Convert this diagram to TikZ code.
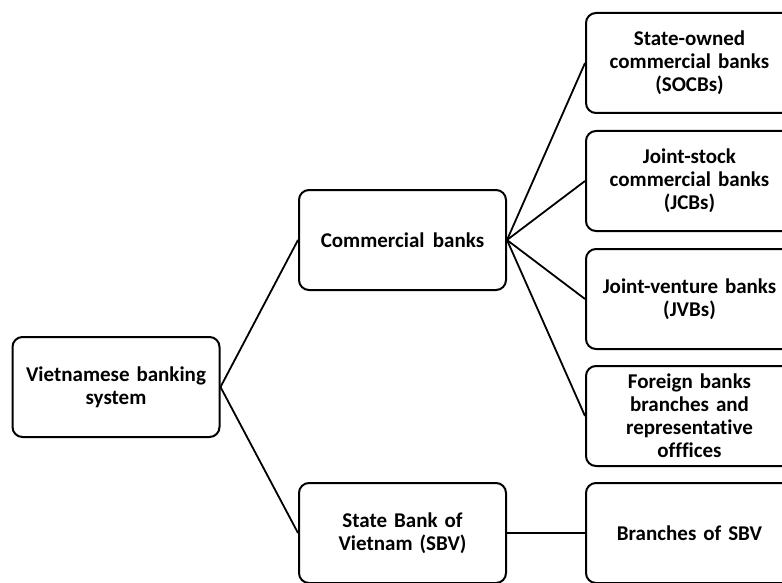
\documentclass[tikz,border=0pt]{standalone}
\usepackage{fontspec}
\setmainfont{Carlito}[Ligatures=NoCommon]
\begin{document}
\begin{tikzpicture}[x=1pt,y=-1pt,
  box/.style={draw=black, line width=2pt, rounded corners=10pt, fill=white,
    minimum width=205pt, minimum height=100pt, inner sep=4pt,
    align=center, text width=199pt,
    font=\fontsize{21}{23}\selectfont\bfseries},
  link/.style={draw=black, line width=1.8pt}]
\useasboundingbox (0,0) rectangle (782,583);
\begin{scope}
\clip (0,0) rectangle (782,583);
\node[box] (vbs) at (116,387) {Vietnamese banking\\system};
\node[box] (cb) at (402.5,240) {Commercial\hspace{0.4em}banks};
\node[box] (sbv) at (402.5,533) {State Bank of\\Vietnam (SBV)};
\node[box] (socb) at (689.5,63) {State-owned\\commercial banks\\(SOCBs)};
\node[box] (jcb) at (689.5,181) {Joint-stock\\commercial banks\\(JCBs)};
\node[box] (jvb) at (689.5,299) {Joint-venture banks\\(JVBs)};
\node[box] (fb) at (689.5,416) {Foreign banks\\branches and\\representative\\offfices};
\node[box] (bsbv) at (689.5,533) {Branches of SBV};
\draw[link] (vbs.east) -- (cb.west);
\draw[link] (vbs.east) -- (sbv.west);
\draw[link] (cb.east) -- (socb.west);
\draw[link] (cb.east) -- (jcb.west);
\draw[link] (cb.east) -- (jvb.west);
\draw[link] (cb.east) -- (fb.west);
\draw[link] (sbv.east) -- (bsbv.west);
\end{scope}
\end{tikzpicture}
\end{document}
